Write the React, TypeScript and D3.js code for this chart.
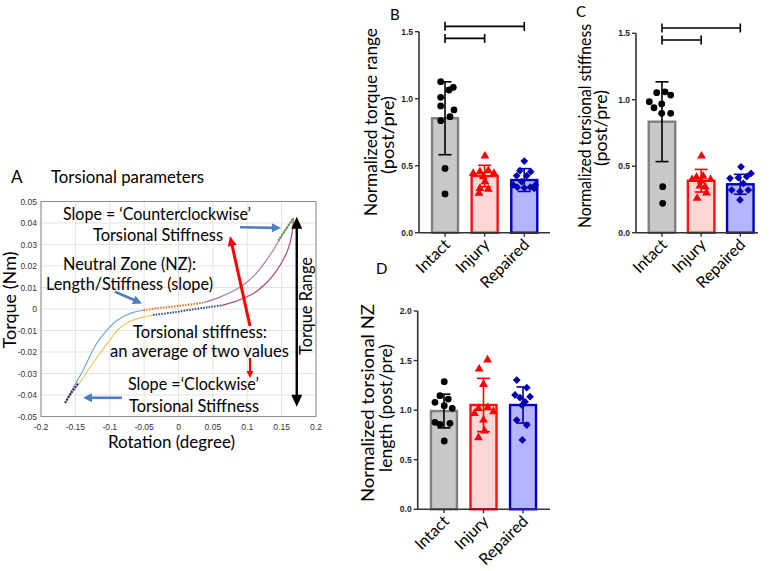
import React from "react";
import * as d3 from "d3";

const groups = ["Intact", "Injury", "Repaired"];

// ---------- Panel A data ----------
const rotationTicks = [-0.2, -0.15, -0.1, -0.05, 0, 0.05, 0.1, 0.15, 0.2];
const torqueTicks = [-0.05, -0.04, -0.03, -0.02, -0.01, 0, 0.01, 0.02, 0.03, 0.04, 0.05];
const blueBranch: [number, number][] = [
  [-0.165, -0.0437], [-0.153, -0.0365], [-0.138, -0.028], [-0.12, -0.0165], [-0.105, -0.0102],
  [-0.09, -0.0055], [-0.075, -0.0027], [-0.062, -0.0012], [-0.051, -0.0006],
];
const yellowBranch: [number, number][] = [
  [-0.165, -0.0437], [-0.155, -0.039], [-0.143, -0.034], [-0.124, -0.025], [-0.1, -0.0145],
  [-0.089, -0.0099], [-0.075, -0.0065], [-0.06, -0.0045], [-0.047, -0.0035], [-0.037, -0.003],
];
const upperNZ: [number, number][] = [
  [-0.051, -0.0006], [-0.03, 0.0004], [-0.01, 0.0011], [0.01, 0.0018], [0.037, 0.003],
];
const lowerNZ: [number, number][] = [
  [-0.037, -0.0028], [-0.01, -0.0017], [0.02, -0.0002], [0.045, 0.0009], [0.063, 0.0017],
];
const upperRight: [number, number][] = [
  [0.037, 0.003], [0.06, 0.0055], [0.09, 0.0102], [0.11, 0.0155], [0.128, 0.0227],
  [0.14, 0.0285], [0.1476, 0.0327], [0.158, 0.038], [0.167, 0.0422],
];
const lowerRight: [number, number][] = [
  [0.063, 0.0017], [0.085, 0.0038], [0.109, 0.0072], [0.128, 0.0122], [0.143, 0.018],
  [0.155, 0.0245], [0.162, 0.0304], [0.166, 0.037], [0.167, 0.0422],
];
const ccwSlope: [number, number][] = [[0.145, 0.0318], [0.155, 0.0365], [0.167, 0.0422]];
const cwSlope: [number, number][] = [[-0.165, -0.0437], [-0.156, -0.039], [-0.146, -0.0346]];

// ---------- Panel B: normalized torque range ----------
const torqueRangeMean = [0.854, 0.423, 0.393];
const torqueRangeSD = [0.272, 0.08, 0.085];
const torqueRangeIntact = [1.127, 1.085, 1.065, 1.01, 0.946, 0.916, 0.866, 0.836, 0.48, 0.289];
const torqueRangeInjury = [0.572, 0.463, 0.455, 0.443, 0.443, 0.418, 0.381, 0.331, 0.324, 0.294];
const torqueRangeRepaired = [0.535, 0.463, 0.455, 0.425, 0.425, 0.381, 0.356, 0.356, 0.34, 0.335, 0.34, 0.33];
const torqueRangeJitter = [
  [-4.3, 8.3, 4, -4.3, -4.3, 9, 5, -4.3, 0, 0],
  [0.3, 3.6, -4.7, -11.4, 9.3, -1.4, 0.3, -4.7, 3.6, -5.7],
  [0, -4.3, 6.4, -7.6, 2.4, -2.6, -11, 11, -7, 0, 6, 10],
];

// ---------- Panel C: normalized torsional stiffness ----------
const stiffnessMean = [0.835, 0.391, 0.364];
const stiffnessSD = [0.3, 0.085, 0.075];
const stiffnessIntact = [1.06, 1.053, 1.035, 0.985, 0.968, 0.94, 0.898, 0.898, 0.346, 0.221];
const stiffnessInjury = [0.577, 0.426, 0.417, 0.4, 0.4, 0.39, 0.351, 0.345, 0.3, 0.259];
const stiffnessRepaired = [0.496, 0.446, 0.421, 0.409, 0.414, 0.371, 0.321, 0.31, 0.321, 0.246];
const stiffnessJitter = [
  [3, -5.3, 8.7, -12.7, -0.3, -8, -0.3, 8.7, 0.7, 0.7],
  [0.4, 2, -4.6, -9, 9.4, 0, -1.3, 4, 5.4, -4],
  [0.7, 10.7, 6.4, -10.3, -2, 3, -8.6, -0.3, 8, -0.3],
];

// ---------- Panel D: normalized NZ length ----------
const nzMean = [0.991, 1.052, 1.052];
const nzSD = [0.17, 0.269, 0.182];
const nzIntact = [1.287, 1.146, 1.112, 1.079, 1.045, 1.018, 0.877, 0.857, 0.867, 0.689];
const nzInjury = [1.506, 1.415, 1.26, 1.018, 1.025, 0.984, 0.968, 0.9, 0.722, 0.79];
const nzRepaired = [1.304, 1.227, 1.153, 1.126, 1.136, 1.085, 1.05, 0.9, 0.85, 0.699];
const nzJitter = [
  [0.3, -4, 4.3, -9, 0.3, 8.3, -9, -4, 6, 0.3],
  [4, -4.3, 0, -5, 4.4, 10, -9, 0, -5, 1],
  [-6.3, 3.7, -8, -3, 7, 2, -1, -6.3, 3.7, -0.7],
];

const barTicks15 = [0, 0.5, 1.0, 1.5];
const barTicks20 = [0, 0.5, 1.0, 1.5, 2.0];
const sigBrackets = [
  { a: 0, b: 2, level: 1.54 },
  { a: 0, b: 1, level: 1.45 },
];

const FONT = "Lato, 'Open Sans', sans-serif";
const NUMFONT = "'Liberation Sans', Arial, sans-serif";

const barFill = ["#c8c8c8", "#ffd6d6", "#b4b4ff"];
const barStroke = ["#7f7f7f", "#ff1010", "#0000c0"];
const ptColor = ["#000000", "#ff0000", "#0000b0"];
const errColor = ["#000000", "#ff0000", "#0000b0"];

function arrowHead(x1: number, y1: number, x2: number, y2: number, len: number, w: number) {
  const dx = x2 - x1, dy = y2 - y1;
  const L = Math.hypot(dx, dy);
  const ux = dx / L, uy = dy / L;
  const bx = x2 - ux * len, by = y2 - uy * len;
  const px = -uy, py = ux;
  return `${x2},${y2} ${bx + px * w / 2},${by + py * w / 2} ${bx - px * w / 2},${by - py * w / 2}`;
}

function Arrow({ x1, y1, x2, y2, color, sw, len, w, both }: any) {
  const dx = x2 - x1, dy = y2 - y1;
  const L = Math.hypot(dx, dy);
  const ux = dx / L, uy = dy / L;
  const ex = x2 - ux * len * 0.8, ey = y2 - uy * len * 0.8;
  const sx = both ? x1 + ux * len * 0.8 : x1, sy = both ? y1 + uy * len * 0.8 : y1;
  return (
    <g>
      <line x1={sx} y1={sy} x2={ex} y2={ey} stroke={color} strokeWidth={sw} />
      <polygon points={arrowHead(x1, y1, x2, y2, len, w)} fill={color} />
      {both && <polygon points={arrowHead(x2, y2, x1, y1, len, w)} fill={color} />}
    </g>
  );
}

function PanelA() {
  const x = d3.scaleLinear().domain([-0.2, 0.2]).range([41, 316]);
  const y = d3.scaleLinear().domain([-0.05, 0.05]).range([416.5, 201.5]);
  const line = d3.line<[number, number]>().x((d) => x(d[0])).y((d) => y(d[1])).curve(d3.curveCatmullRom);
  const ann = (t: string, x0: number, yb: number, w: number, fs = 17) => (
    <text x={x0} y={yb} fontFamily={FONT} fontSize={fs} textLength={w} lengthAdjust="spacingAndGlyphs" fill="#000">{t}</text>
  );
  const blue = "#4a7fc0";
  return (
    <g>
      <text x={11} y={183} fontFamily={FONT} fontSize={17} fill="#000">A</text>
      {ann("Torsional parameters", 51, 183, 153)}
      {rotationTicks.map((t) => (
        <line key={"gx" + t} x1={x(t)} x2={x(t)} y1={y(-0.05)} y2={y(0.05)} stroke="#e3e3e3" strokeWidth={1} />
      ))}
      {torqueTicks.map((t) => (
        <line key={"gy" + t} x1={x(-0.2)} x2={x(0.2)} y1={y(t)} y2={y(t)} stroke="#e3e3e3" strokeWidth={1} />
      ))}
      <rect x={x(-0.2)} y={y(0.05)} width={x(0.2) - x(-0.2)} height={y(-0.05) - y(0.05)} fill="none" stroke="#8c8c8c" strokeWidth={1} />
      {torqueTicks.map((t) => (
        <text key={"ty" + t} x={37} y={y(t) + 3} textAnchor="end" fontFamily={NUMFONT} fontSize={8.5} fill="#333">{String(+t.toFixed(2))}</text>
      ))}
      {rotationTicks.map((t) => (
        <text key={"tx" + t} x={x(t)} y={429.5} textAnchor="middle" fontFamily={NUMFONT} fontSize={8.5} fill="#333">{String(+t.toFixed(2))}</text>
      ))}
      <path d={line(blueBranch)!} fill="none" stroke="#6fa8dc" strokeWidth={1.2} />
      <path d={line(yellowBranch)!} fill="none" stroke="#efc860" strokeWidth={1.2} />
      <path d={line(upperNZ)!} fill="none" stroke="#e6782e" strokeWidth={2} strokeDasharray="1.6,1.2" />
      <path d={line(lowerNZ)!} fill="none" stroke="#34508e" strokeWidth={2} strokeDasharray="1.6,1.2" />
      <path d={line(upperRight)!} fill="none" stroke="#a87aae" strokeWidth={1.2} />
      <path d={line(lowerRight)!} fill="none" stroke="#a84e7e" strokeWidth={1.2} />
      <path d={line(ccwSlope)!} fill="none" stroke="#5aa84a" strokeWidth={2.2} strokeDasharray="2,1" />
      <path d={line(cwSlope)!} fill="none" stroke="#4a2a6a" strokeWidth={2.2} strokeDasharray="2,1" />
      {ann("Slope = \u2018Counterclockwise\u2019", 63, 220, 188)}
      {ann("Torsional Stiffness", 93, 241, 130)}
      {ann("Neutral Zone (NZ):", 63, 270, 133)}
      {ann("Length/Stiffness (slope)", 46, 290, 167)}
      {ann("Torsional stiffness:", 133, 337.5, 134)}
      {ann("an average of two values", 110, 357, 179)}
      {ann("Slope =\u2018Clockwise\u2019", 128, 390, 131)}
      {ann("Torsional Stiffness", 129, 411.5, 130)}
      <Arrow x1={x(0.0895)} y1={y(0.038)} x2={x(0.149)} y2={y(0.0377)} color={blue} sw={2.6} len={9} w={9} />
      <Arrow x1={x(-0.0924)} y1={y(0.008)} x2={x(-0.0531)} y2={y(0.0026)} color={blue} sw={2.6} len={9} w={9} />
      <Arrow x1={x(-0.0822)} y1={y(-0.0413)} x2={x(-0.1389)} y2={y(-0.0413)} color={blue} sw={2.6} len={9} w={9} />
      <Arrow x1={x(0.104)} y1={y(-0.0079)} x2={x(0.0749)} y2={y(0.034)} color="#ff0000" sw={3} len={10} w={9} />
      <Arrow x1={x(0.104)} y1={y(-0.0228)} x2={x(0.104)} y2={y(-0.0321)} color="#ff0000" sw={2.2} len={7} w={7} />
      <Arrow x1={x(0.172)} y1={y(-0.0455)} x2={x(0.172)} y2={y(0.0429)} color="#000" sw={2.4} len={12} w={11} both />
      <text transform={`translate(312,306) rotate(-90)`} textAnchor="middle" fontFamily={FONT} fontSize={17} textLength={98} lengthAdjust="spacingAndGlyphs">Torque Range</text>
      <text transform={`translate(15.5,300) rotate(-90)`} textAnchor="middle" fontFamily={FONT} fontSize={17} textLength={97} lengthAdjust="spacingAndGlyphs">Torque (Nm)</text>
      <text x={171.5} y={448} textAnchor="middle" fontFamily={FONT} fontSize={17} textLength={127} lengthAdjust="spacingAndGlyphs">Rotation (degree)</text>
    </g>
  );
}

function BarPanel(p: {
  cxRange: [number, number]; yRange: [number, number]; yMax: number; yTicks: number[];
  axisX1: number; barW: number; means: number[]; sds: number[]; pts: number[][]; jit: number[][];
  brackets?: { a: number; b: number; level: number }[];
  letter: string; letterXY: [number, number]; labels: string[]; labelX: number[]; labelCY: number[]; labelLen: number[];
  axisX0: number;
}) {
  const x = d3.scalePoint<string>().domain(groups).range(p.cxRange).padding(0.5);
  const y = d3.scaleLinear().domain([0, p.yMax]).range(p.yRange);
  const tri = d3.symbol().type(d3.symbolTriangle).size(34)()!;
  const dia = d3.symbol().type(d3.symbolSquare).size(30)()!;
  const fmt = d3.format(".1f");
  return (
    <g>
      <text x={p.letterXY[0]} y={p.letterXY[1]} fontFamily={FONT} fontSize={15} fill="#000">{p.letter}</text>
      {p.labels.map((l, i) => (
        <text key={l} transform={`translate(${p.labelX[i]},${p.labelCY[i]}) rotate(-90)`} textAnchor="middle" fontFamily={FONT} fontSize={17.5}
          textLength={p.labelLen[i]} lengthAdjust="spacingAndGlyphs">{l}</text>
      ))}
      {groups.map((g, i) => {
        const cx = x(g)!;
        const top = y(p.means[i]);
        return (
          <g key={g}>
            <rect x={cx - p.barW / 2} y={top} width={p.barW} height={y(0) - top} fill={barFill[i]} stroke={barStroke[i]} strokeWidth={2.4} />
          </g>
        );
      })}
      {groups.map((g, i) => {
        const cx = x(g)!;
        return (
          <g key={"pts" + g}>
            {p.pts[i].map((v, j) => {
              const px = cx + p.jit[i][j], py = y(v);
              if (i === 0) return <circle key={j} cx={px} cy={py} r={3.4} fill={ptColor[0]} />;
              if (i === 1) return <path key={j} d={tri} transform={`translate(${px},${py})`} fill={ptColor[1]} />;
              return <path key={j} d={dia} transform={`translate(${px},${py}) rotate(45)`} fill={ptColor[2]} />;
            })}
          </g>
        );
      })}
      {groups.map((g, i) => {
        const cx = x(g)!;
        const hi = y(p.means[i] + p.sds[i]), lo = y(p.means[i] - p.sds[i]);
        return (
          <g key={"err" + g} stroke={errColor[i]} strokeWidth={1.6}>
            <line x1={cx} x2={cx} y1={hi} y2={lo} />
            <line x1={cx - 6.5} x2={cx + 6.5} y1={hi} y2={hi} />
            <line x1={cx - 6.5} x2={cx + 6.5} y1={lo} y2={lo} />
          </g>
        );
      })}
      <line x1={p.axisX0} x2={p.axisX0} y1={y(p.yMax)} y2={y(0)} stroke="#333" strokeWidth={1.6} />
      <line x1={p.axisX0} x2={p.axisX1} y1={y(0)} y2={y(0)} stroke="#333" strokeWidth={1.6} />
      {p.yTicks.map((t) => (
        <g key={t}>
          <line x1={p.axisX0 - 4} x2={p.axisX0} y1={y(t)} y2={y(t)} stroke="#333" strokeWidth={1.4} />
          <text x={p.axisX0 - 6} y={y(t) + 3} textAnchor="end" fontFamily={NUMFONT} fontWeight="bold" fontSize={8.5} fill="#222">{fmt(t)}</text>
        </g>
      ))}
      {groups.map((g) => (
        <g key={"xt" + g}>
          <line x1={x(g)!} x2={x(g)!} y1={y(0)} y2={y(0) + 4} stroke="#333" strokeWidth={1.4} />
          <text transform={`translate(${x(g)! + 6},${y(0) + 13}) rotate(-45)`} textAnchor="end" fontFamily={FONT} fontSize={16} fill="#000">{g}</text>
        </g>
      ))}
      {(p.brackets || []).map((b, k) => {
        const xa = x(groups[b.a])!, xb = x(groups[b.b])!, yy = y(b.level);
        return (
          <g key={"br" + k} stroke="#000" strokeWidth={1.6}>
            <line x1={xa} x2={xb} y1={yy} y2={yy} />
            <line x1={xa} x2={xa} y1={yy - 4.5} y2={yy + 4.5} />
            <line x1={xb} x2={xb} y1={yy - 4.5} y2={yy + 4.5} />
          </g>
        );
      })}
    </g>
  );
}

export default function App() {
  return (
    <svg width={772} height={571} style={{ position: "absolute", left: 0, top: 0, background: "#fff" }}>
      <rect x={0} y={0} width={772} height={571} fill="#fff" />
      <PanelA />
      <BarPanel
        cxRange={[425.2, 544.1]} yRange={[232.7, 31.7]} yMax={1.5} yTicks={barTicks15}
        axisX0={419} axisX1={550} barW={26}
        means={torqueRangeMean} sds={torqueRangeSD}
        pts={[torqueRangeIntact, torqueRangeInjury, torqueRangeRepaired]} jit={torqueRangeJitter}
        brackets={sigBrackets} letter="B" letterXY={[390, 20]}
        labels={["Normalized torque range", "(post/pre)"]} labelX={[377, 394]} labelCY={[122, 135]} labelLen={[188, 78]}
      />
      <BarPanel
        cxRange={[642.4, 759.9]} yRange={[232.7, 33.3]} yMax={1.5} yTicks={barTicks15}
        axisX0={636} axisX1={758} barW={26.5}
        means={stiffnessMean} sds={stiffnessSD}
        pts={[stiffnessIntact, stiffnessInjury, stiffnessRepaired]} jit={stiffnessJitter}
        brackets={sigBrackets} letter="C" letterXY={[576, 17]}
        labels={["Normalized torsional stiffness", "(post/pre)"]} labelX={[591, 607]} labelCY={[126, 128]} labelLen={[204, 76]}
      />
      <BarPanel
        cxRange={[424.2, 542.8]} yRange={[509.3, 311]} yMax={2.0} yTicks={barTicks20}
        axisX0={417.7} axisX1={550} barW={26}
        means={nzMean} sds={nzSD}
        pts={[nzIntact, nzInjury, nzRepaired]} jit={nzJitter}
        letter="D" letterXY={[376, 274]}
        labels={["Normalized torsional NZ", "length (post/pre)"]} labelX={[374, 392]} labelCY={[403, 408]} labelLen={[198, 128]}
      />
    </svg>
  );
}
